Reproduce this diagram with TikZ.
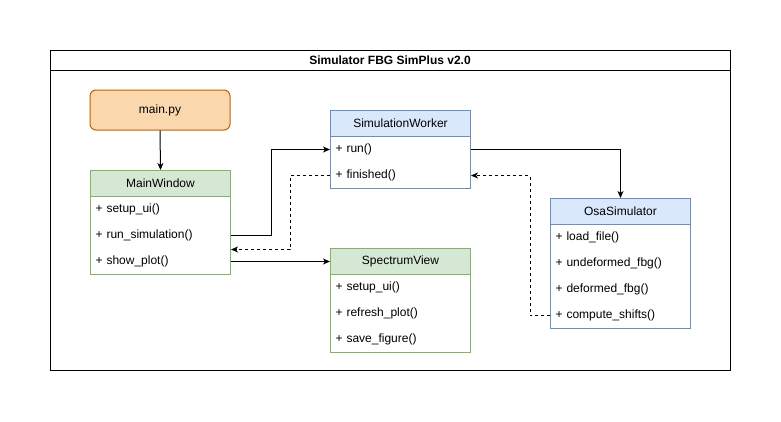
\documentclass[tikz,border=0pt]{standalone}
\usepackage{fontspec}
\setmainfont{Liberation Sans}
\usetikzlibrary{arrows.meta}
\definecolor{orFill}{HTML}{FAD7AC}
\definecolor{orLine}{HTML}{B46504}
\definecolor{grFill}{HTML}{D5E8D4}
\definecolor{grLine}{HTML}{82B366}
\definecolor{blFill}{HTML}{DAE8FC}
\definecolor{blLine}{HTML}{6C8EBF}
\begin{document}
\begin{tikzpicture}[x=1pt,y=-1pt,line width=1pt,
  font=\fontsize{12}{14}\selectfont,
  hdr/.style={draw, minimum width=140pt, minimum height=26pt, inner sep=0pt, anchor=north west},
  body/.style={draw, fill=white, minimum width=140pt, inner sep=0pt, anchor=north west},
  row/.style={minimum width=140pt, minimum height=26pt, text width=130pt, inner xsep=5pt, inner ysep=0pt, align=left, anchor=north west},
  green/.style={fill=grFill, draw=grLine},
  blue/.style={fill=blFill, draw=blLine},
  conn/.style={draw=black, -{Stealth[length=7pt,width=6pt,inset=2pt]}},
  dsh/.style={conn, dash pattern=on 3pt off 3pt}]
\useasboundingbox[fill=white] (0,0) rectangle (781,421);
% frame
\draw[fill=white] (50,50) rectangle (730,370);
\draw (50,70) -- (730,70);
\node[font=\fontsize{12}{14}\selectfont\bfseries] (title) at (390,60) {Simulator FBG SimPlus v2.0};
% main.py
\node[draw=orLine, fill=orFill, rounded corners=6pt, minimum width=140pt, minimum height=40pt, inner sep=0pt] (main) at (160,110) {main.py};
% MainWindow
\node[body, draw=grLine, minimum height=78pt] (mwbody) at (90,196) {};
\node[hdr, green] (mw) at (90,170) {MainWindow};
\node[row] (mwsetup) at (90,196) {+ setup\_ui()};
\node[row] (mwrun) at (90,222) {+ run\_simulation()};
\node[row] (mwshow) at (90,248) {+ show\_plot()};
% SimulationWorker
\node[body, draw=blLine, minimum height=52pt] (swbody) at (330,136) {};
\node[hdr, blue] (sw) at (330,110) {SimulationWorker};
\node[row] (swrun) at (330,136) {+ run()};
\node[row] (swfin) at (330,162) {+ finished()};
% SpectrumView
\node[body, draw=grLine, minimum height=78pt] (svbody) at (330,274) {};
\node[hdr, green] (sv) at (330,248) {SpectrumView};
\node[row] (svsetup) at (330,274) {+ setup\_ui()};
\node[row] (svrefresh) at (330,300) {+ refresh\_plot()};
\node[row] (svsave) at (330,326) {+ save\_figure()};
% OsaSimulator
\node[body, draw=blLine, minimum height=104pt] (osabody) at (550,224) {};
\node[hdr, blue] (osa) at (550,198) {OsaSimulator};
\node[row] (osaload) at (550,224) {+ load\_file()};
\node[row] (osaundef) at (550,250) {+ undeformed\_fbg()};
\node[row] (osadef) at (550,276) {+ deformed\_fbg()};
\node[row] (osacomp) at (550,302) {+ compute\_shifts()};
% connectors
\draw[conn] (main.south) -- (mw.north);
\draw[conn] (mwrun.east) -- ++(40,0) |- (swrun.west);
\draw[dsh] (swfin.west) -- ++(-40,0) |- ([yshift=-14pt]mwrun.east);
\draw[conn] (mwshow.east) -- (sv.west);
\draw[conn] (swrun.east) -| (osa.north);
\draw[dsh] (osacomp.west) -- ++(-20,0) |- (swfin.east);
\end{tikzpicture}
\end{document}
